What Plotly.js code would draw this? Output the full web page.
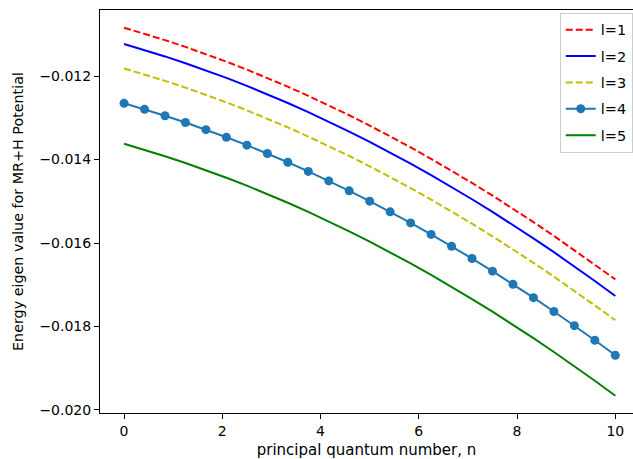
<!DOCTYPE html>
<html>
<head>
<meta charset="utf-8">
<script src="https://cdn.plot.ly/plotly-3.0.1.min.js"></script>
<style>html,body{margin:0;padding:0;background:#fff;}#chart{width:633px;height:459px;}</style>
</head>
<body>
<div id="chart"></div>
<script>
// principal quantum number n (25 samples from 0 to 10)
const n = [0, 0.4167, 0.8333, 1.25, 1.6667, 2.0833, 2.5, 2.9167, 3.3333, 3.75, 4.1667, 4.5833, 5,
  5.4167, 5.8333, 6.25, 6.6667, 7.0833, 7.5, 7.9167, 8.3333, 8.75, 9.1667, 9.5833, 10];

const seriesNames = ["l=1", "l=2", "l=3", "l=4", "l=5"];

const l1 = [-0.010844, -0.010988, -0.011141, -0.011303, -0.011475, -0.011656, -0.011847, -0.012047,
  -0.012256, -0.012475, -0.012703, -0.012940, -0.013187, -0.013443, -0.013709, -0.013984, -0.014268,
  -0.014562, -0.014865, -0.015177, -0.015499, -0.015830, -0.016170, -0.016520, -0.016870];
const l2 = [-0.011234, -0.011378, -0.011531, -0.011693, -0.011865, -0.012046, -0.012237, -0.012437,
  -0.012646, -0.012865, -0.013093, -0.013330, -0.013577, -0.013833, -0.014099, -0.014374, -0.014658,
  -0.014952, -0.015255, -0.015567, -0.015889, -0.016220, -0.016560, -0.016910, -0.017269];
const l3 = [-0.011819, -0.011963, -0.012116, -0.012278, -0.012450, -0.012631, -0.012822, -0.013022,
  -0.013231, -0.013450, -0.013678, -0.013915, -0.014162, -0.014418, -0.014684, -0.014959, -0.015243,
  -0.015537, -0.015840, -0.016152, -0.016474, -0.016805, -0.017145, -0.017495, -0.017850];
const l4 = [-0.012654, -0.012798, -0.012951, -0.013113, -0.013285, -0.013466, -0.013657, -0.013857,
  -0.014066, -0.014285, -0.014513, -0.014750, -0.014997, -0.015253, -0.015519, -0.015794, -0.016078,
  -0.016372, -0.016675, -0.016987, -0.017309, -0.017640, -0.017980, -0.018330, -0.018689];
const l5 = [-0.013624, -0.013768, -0.013921, -0.014083, -0.014255, -0.014436, -0.014627, -0.014827,
  -0.015036, -0.015255, -0.015483, -0.015720, -0.015967, -0.016223, -0.016489, -0.016764, -0.017048,
  -0.017342, -0.017645, -0.017957, -0.018279, -0.018610, -0.018950, -0.019300, -0.019659];

const xTickVals = [0, 2, 4, 6, 8, 10];
const yTickVals = [-0.020, -0.018, -0.016, -0.014, -0.012];

const FONT = "DejaVu Sans, sans-serif";
const DASH = "7px,3px";

function line(y, name, color, dash, extra) {
  return Object.assign({
    x: n, y: y, name: name, type: "scatter", mode: "lines",
    legendgroup: name,
    line: {color: color, width: 2, dash: dash}
  }, extra || {});
}

const traces = [
  line(l1, seriesNames[0], "#ff0000", DASH),
  line(l2, seriesNames[1], "#0000ff", "solid"),
  line(l3, seriesNames[2], "#bfbf00", DASH),
  line(l4, seriesNames[3], "#1f77b4", "solid", {mode: "lines+markers", marker: {size: 9, color: "#1f77b4"}}),
  line(l5, seriesNames[4], "#008000", "solid")
];

const layout = {
  width: 633, height: 459,
  margin: {l: 100, r: 0, t: 10, b: 46},
  paper_bgcolor: "#ffffff", plot_bgcolor: "#ffffff",
  font: {family: FONT, size: 14, color: "#000"},
  showlegend: true,
  legend: {
    x: 0.9995, xanchor: "right", y: 0.993, yanchor: "top",
    bordercolor: "#cccccc", borderwidth: 1, bgcolor: "rgba(255,255,255,0.85)",
    font: {family: FONT, size: 14.5, color: "#000"},
    tracegroupgap: 4.5
  },
  xaxis: {
    range: [-0.49, 10.36],
    tickvals: xTickVals, ticktext: xTickVals.map(String),
    ticks: "outside", ticklen: 5, tickwidth: 1, tickcolor: "#000",
    showline: true, linecolor: "#000", linewidth: 1, mirror: true,
    showgrid: false, zeroline: false,
    tickfont: {family: FONT, size: 14},
    title: {text: "principal quantum number, n", font: {family: FONT, size: 15}, standoff: 8}
  },
  yaxis: {
    range: [-0.020072, -0.010419],
    tickvals: yTickVals, ticktext: yTickVals.map(v => "\u2212" + Math.abs(v).toFixed(3)),
    ticks: "outside", ticklen: 5, tickwidth: 1, tickcolor: "#000",
    showline: true, linecolor: "#000", linewidth: 1, mirror: false,
    showgrid: false, zeroline: false,
    tickfont: {family: FONT, size: 14},
    title: {text: "Energy eigen value for MR+H Potential", font: {family: FONT, size: 14.3}, standoff: 12}
  }
};

Plotly.newPlot("chart", traces, layout, {displayModeBar: false, staticPlot: true});
</script>
</body>
</html>
